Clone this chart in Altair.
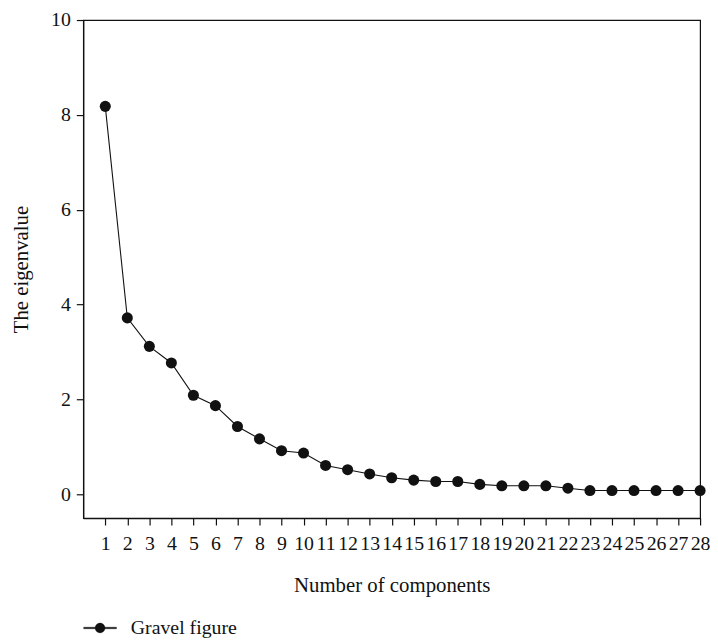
import altair as alt
import pandas as pd

components = list(range(1, 29))
eigenvalues = [8.18, 3.72, 3.12, 2.77, 2.09, 1.87, 1.43, 1.17, 0.92, 0.87,
               0.61, 0.52, 0.43, 0.35, 0.30, 0.27, 0.27, 0.21, 0.18, 0.18,
               0.18, 0.13, 0.08, 0.08, 0.08, 0.08, 0.08, 0.08]
series = ["Gravel figure"] * len(components)
y_ticks = [0, 2, 4, 6, 8, 10]

df = pd.DataFrame({"n": components, "v": eigenvalues, "s": series})

FONT = "Liberation Serif"
INK = "#111111"

LEGEND_SYMBOL = ("M-1,-0.05L1,-0.05L1,0.05L-1,0.05Z"
                 "M-0.3,0A0.3,0.3,0,1,1,0.3,0A0.3,0.3,0,1,1,-0.3,0Z")

x = alt.X("n:Q",
          scale=alt.Scale(domain=[0, 28], nice=False, zero=False),
          axis=alt.Axis(values=components, title="Number of components",
                        grid=False, tickSize=7, labelPadding=9,
                        titlePadding=21, labelFlush=False, labelOverlap=False))
y = alt.Y("v:Q",
          scale=alt.Scale(domain=[-0.5, 10], nice=False, zero=False),
          axis=alt.Axis(values=y_ticks, title="The eigenvalue", grid=False,
                        tickSize=7, labelPadding=6, titlePadding=19))
color = alt.Color("s:N", scale=alt.Scale(range=[INK]),
                  legend=alt.Legend(title=None, orient="none", legendX=0,
                                    legendY=597,
                                    symbolType=LEGEND_SYMBOL,
                                    symbolSize=1100, symbolStrokeWidth=0.3,
                                    labelFont=FONT, labelFontSize=20,
                                    labelColor=INK, labelOffset=14))

base = alt.Chart(df)
line = base.mark_line(strokeWidth=1.1).encode(x=x, y=y, color=color)
pts = base.mark_point(filled=True, size=125, opacity=1).encode(x=x, y=y, color=color)

chart = (line + pts).properties(
    width=623, height=503,
    autosize=alt.AutoSizeParams(type="none"),
    padding={"left": 76, "top": 9, "right": 10, "bottom": 119},
).configure_view(
    stroke=INK, strokeWidth=1.2
).configure_axis(
    labelFont=FONT, titleFont=FONT, labelFontSize=20, titleFontSize=21,
    titleFontWeight="normal", labelColor=INK, titleColor=INK,
    domainColor=INK, tickColor=INK, domainWidth=1.2, tickWidth=1.2,
)

chart.save("out.html", embed_options={"renderer": "svg", "actions": False})
